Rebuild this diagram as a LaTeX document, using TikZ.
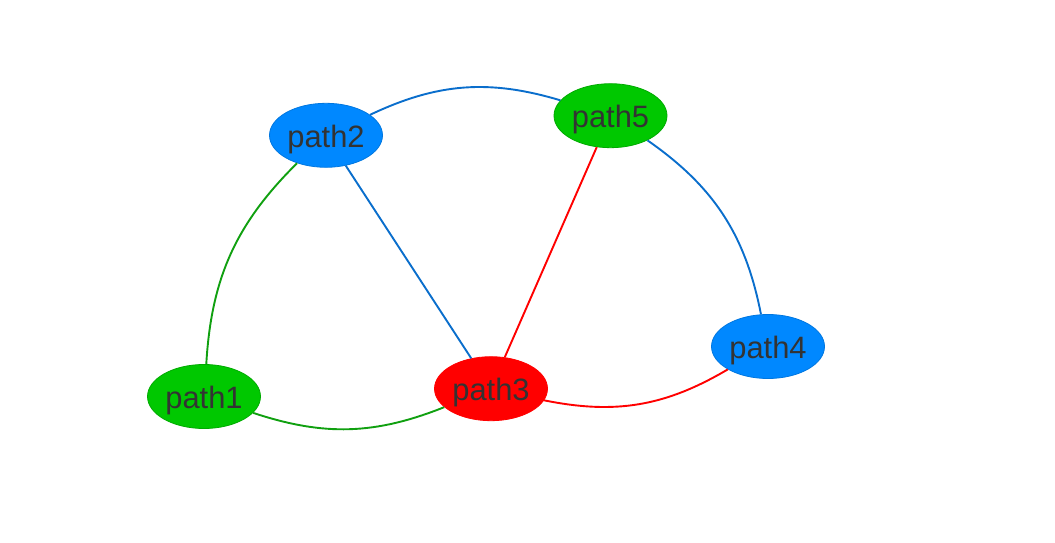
\documentclass[tikz,border=0pt]{standalone}
\usepackage{fontspec}
\setmainfont{Liberation Sans}
\usetikzlibrary{shapes.geometric}
\definecolor{nblue}{HTML}{0088FF}
\definecolor{nbluedk}{HTML}{0077E0}
\definecolor{ngreen}{HTML}{00C800}
\definecolor{ngreendk}{HTML}{00AA00}
\definecolor{nred}{HTML}{FF0000}
\definecolor{ntext}{HTML}{333333}
\definecolor{eblue}{HTML}{0A6ECC}
\definecolor{egreen}{HTML}{10A010}
\definecolor{ered}{HTML}{FF0000}
\tikzset{
  pathnode/.style={ellipse, minimum width=113bp, minimum height=64bp, inner sep=0pt,
    line width=0.8bp, text=ntext, font=\fontsize{31}{31}\selectfont,
    text height=29.8bp, text depth=6bp},
  bluenode/.style={pathnode, fill=nblue, draw=nbluedk},
  greennode/.style={pathnode, fill=ngreen, draw=ngreendk},
  rednode/.style={pathnode, fill=nred, draw=nred},
  edge/.style={line width=1.9bp},
}
\begin{document}
\begin{tikzpicture}[x=1bp,y=-1bp]
\useasboundingbox (0,0) rectangle (1055,543);
\node[greennode] (p1) at (204,396.5) {path1};
\node[bluenode]  (p2) at (326,135.3) {path2};
\node[rednode]   (p3) at (491,388.7) {path3};
\node[bluenode]  (p4) at (768,346.5) {path4};
\node[greennode] (p5) at (610.5,115.7) {path5};
\draw[edge, egreen] (p1) to[bend left=21] (p2);
\draw[edge, egreen] (p1) to[bend right=20] (p3);
\draw[edge, eblue] (p2) to[bend left=21] (p5);
\draw[edge, eblue] (p2) -- (p3);
\draw[edge, ered] (p3) -- (p5);
\draw[edge, ered] (p3) to[bend right=21] (p4);
\draw[edge, eblue] (p5) to[bend left=22] (p4);
\end{tikzpicture}
\end{document}
